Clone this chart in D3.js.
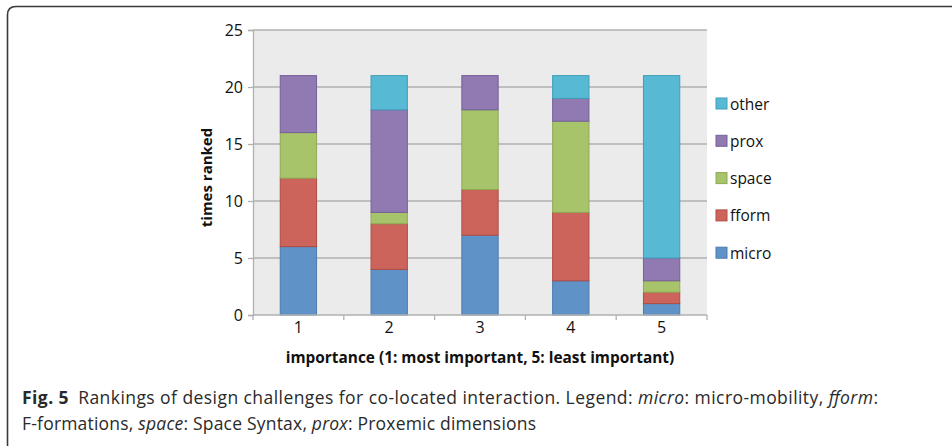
<!DOCTYPE html>
<html><head><meta charset="utf-8">
<script src="https://cdn.jsdelivr.net/npm/d3@7"></script>
<style>body{margin:0;background:#fff}svg{display:block}</style>
</head><body>
<svg id="c" width="952" height="446"></svg>
<script>
const categories = ["1","2","3","4","5"];
const seriesNames = ["micro","fform","space","prox","other"];
const micro = [6,4,7,3,1];
const fform = [6,4,4,6,1];
const space = [4,1,7,8,1];
const prox  = [5,9,3,2,2];
const other = [0,3,0,2,16];
const yTicks = [0,5,10,15,20,25];
const colors = ["#5f93c8","#cd645c","#a8c46a","#9179b2","#57b9d3"];
const strokes = ["#4a7bb0","#b04c44","#8ea955","#76609a","#3f9fb9"];

const svg = d3.select("#c");
svg.append("path").attr("d","M7.5,446 L7.5,15 Q7.5,6.5 16,6.5 L952,6.5")
  .attr("fill","none").attr("stroke","#3a3a3a").attr("stroke-width",1.6);

const L=253, T=30, R=707, B=315;
const x = d3.scaleBand().domain(categories).range([L,R]).paddingInner(0.6).paddingOuter(0.3);
const xb = d3.scaleBand().domain(categories).range([L,R]);
const y = d3.scaleLinear().domain([0,25]).range([B,T]);

svg.append("rect").attr("x",L).attr("y",T).attr("width",R-L).attr("height",B-T).attr("fill","#ebebeb");
svg.append("g").selectAll("line").data(yTicks.slice(1)).join("line")
  .attr("x1",L).attr("x2",R).attr("y1",d=>y(d)).attr("y2",d=>y(d))
  .attr("stroke","#b0b0b0").attr("stroke-width",1.3);

const data = categories.map((c,i)=>({cat:c,micro:micro[i],fform:fform[i],space:space[i],prox:prox[i],other:other[i]}));
const stack = d3.stack().keys(seriesNames)(data);
svg.append("g").selectAll("g").data(stack).join("g")
  .attr("fill",(d,i)=>colors[i]).attr("stroke",(d,i)=>strokes[i])
  .selectAll("rect").data(d=>d.filter(e=>e[1]-e[0]>0)).join("rect")
  .attr("x",d=>x(d.data.cat)).attr("width",x.bandwidth())
  .attr("y",d=>y(d[1])).attr("height",d=>y(d[0])-y(d[1]))
  .attr("stroke-width",1);

const font = "'Open Sans', sans-serif";
const ya = svg.append("g").attr("transform",`translate(${L},0)`)
  .call(d3.axisLeft(y).tickValues(yTicks).tickSize(5).tickPadding(5));
ya.select(".domain").attr("stroke","#b0b0b0").attr("stroke-width",1.3);
ya.selectAll(".tick line").attr("stroke","#b0b0b0").attr("stroke-width",1.3);
ya.selectAll("text").attr("font-family",font).attr("font-size",16).attr("fill","#111");
const xa = svg.append("g").attr("transform",`translate(0,${B})`);
xa.append("line").attr("x1",L).attr("x2",R).attr("stroke","#b0b0b0").attr("stroke-width",1.3);
xa.selectAll("line.t").data(categories.concat(["end"])).join("line").attr("class","t")
  .attr("x1",(d,i)=>i<5?xb(d):R).attr("x2",(d,i)=>i<5?xb(d):R).attr("y1",0).attr("y2",5)
  .attr("stroke","#b0b0b0").attr("stroke-width",1.3);
xa.selectAll("text").data(categories).join("text")
  .attr("x",d=>xb(d)+xb.bandwidth()/2).attr("y",18).attr("text-anchor","middle")
  .attr("font-family",font).attr("font-size",16).attr("fill","#111").text(d=>d);

svg.append("text").attr("x",(L+R)/2).attr("y",363).attr("text-anchor","middle")
  .attr("font-family",font).attr("font-size",15.4).attr("font-weight","bold").attr("fill","#111")
  .text("importance (1: most important, 5: least important)");
svg.append("text").attr("transform",`translate(212,${(T+B)/2+5}) rotate(-90)`).attr("text-anchor","middle")
  .attr("font-family",font).attr("font-size",15).attr("font-weight","bold").attr("fill","#111")
  .text("times ranked");

const legOrder = seriesNames.map((n,i)=>({n,i})).reverse();
const lg = svg.append("g").selectAll("g").data(legOrder).join("g")
  .attr("transform",(d,k)=>`translate(716,${104+k*37.3})`);
lg.append("rect").attr("x",0).attr("y",-6).attr("width",11).attr("height",11)
  .attr("fill",d=>colors[d.i]).attr("stroke",d=>strokes[d.i]);
lg.append("text").attr("x",14).attr("y",5.5).attr("font-family",font).attr("font-size",15.5)
  .attr("fill","#111").text(d=>d.n);

const cf = "'Open Sans', sans-serif";
const c1 = svg.append("text").attr("x",22).attr("y",404).attr("font-family",cf).attr("font-size",17.5).attr("fill","#2a2a2a")
  .attr("textLength",856).attr("lengthAdjust","spacing");
c1.append("tspan").attr("font-weight","bold").text("Fig. 5");
c1.append("tspan").text("\u2002Rankings of design challenges for co-located interaction. Legend: ");
c1.append("tspan").attr("font-style","italic").text("micro");
c1.append("tspan").text(": micro-mobility, ");
c1.append("tspan").attr("font-style","italic").text("fform");
c1.append("tspan").text(":");
const c2 = svg.append("text").attr("x",22).attr("y",430).attr("font-family",cf).attr("font-size",17.5).attr("fill","#2a2a2a")
  .attr("textLength",514).attr("lengthAdjust","spacing");
c2.append("tspan").text("F-formations, ");
c2.append("tspan").attr("font-style","italic").text("space");
c2.append("tspan").text(": Space Syntax, ");
c2.append("tspan").attr("font-style","italic").text("prox");
c2.append("tspan").text(": Proxemic dimensions");
</script>
</body></html>
